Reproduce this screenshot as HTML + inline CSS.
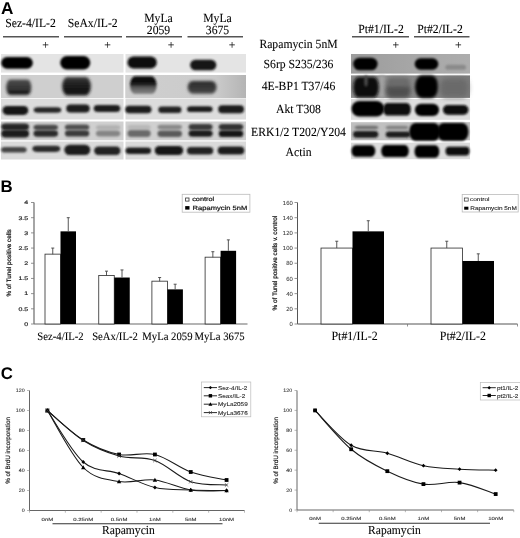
<!DOCTYPE html>
<html><head><meta charset="utf-8"><style>
html,body{margin:0;padding:0;background:#fff;width:520px;height:538px;overflow:hidden}
svg{display:block;filter:blur(0.35px)}
text{text-rendering:geometricPrecision;stroke-linejoin:round}
</style></head><body>
<svg width="520" height="538" viewBox="0 0 520 538">
<defs><linearGradient id="gL1" x1="0" x2="0" y1="0" y2="1"><stop offset="0" stop-color="#5a5a5a"/><stop offset="0.17" stop-color="#333"/><stop offset="0.3" stop-color="#505050"/><stop offset="0.45" stop-color="#2a2a2a"/><stop offset="0.57" stop-color="#444"/><stop offset="0.72" stop-color="#1e1e1e"/><stop offset="1" stop-color="#1a1a1a"/></linearGradient><linearGradient id="gL3" x1="0" x2="0" y1="0" y2="1"><stop offset="0" stop-color="#3a3a3a"/><stop offset="0.4" stop-color="#1e1e1e"/><stop offset="1" stop-color="#111"/></linearGradient><linearGradient id="gL5" x1="0" x2="0" y1="0" y2="1"><stop offset="0" stop-color="#0a0a0a"/><stop offset="0.45" stop-color="#141414"/><stop offset="0.6" stop-color="#555"/><stop offset="1" stop-color="#8a8a8a"/></linearGradient><linearGradient id="gL7" x1="0" x2="0" y1="0" y2="1"><stop offset="0" stop-color="#2a2a2a"/><stop offset="0.5" stop-color="#383838"/><stop offset="1" stop-color="#4a4a4a"/></linearGradient><linearGradient id="gRS1" x1="0" x2="1" y1="0" y2="0"><stop offset="0" stop-color="#9c9c9c"/><stop offset="0.5" stop-color="#a6a6a6"/><stop offset="1" stop-color="#adadad"/></linearGradient><linearGradient id="gS2L" x1="0" x2="1" y1="0" y2="0"><stop offset="0" stop-color="#cfcfcf"/><stop offset="0.75" stop-color="#cbcbcb"/><stop offset="1" stop-color="#b4b4b4"/></linearGradient><linearGradient id="gS2" x1="0" x2="1" y1="0" y2="0"><stop offset="0" stop-color="#8e8e8e"/><stop offset="0.5" stop-color="#8a8a8a"/><stop offset="1" stop-color="#7c7c7c"/></linearGradient><filter id="bl5" x="-50%" y="-200%" width="200%" height="500%"><feGaussianBlur stdDeviation="0.5"/></filter><filter id="bl6" x="-50%" y="-200%" width="200%" height="500%"><feGaussianBlur stdDeviation="0.6"/></filter><filter id="bl7" x="-50%" y="-200%" width="200%" height="500%"><feGaussianBlur stdDeviation="0.7"/></filter><filter id="bl8" x="-50%" y="-200%" width="200%" height="500%"><feGaussianBlur stdDeviation="0.8"/></filter><filter id="bl9" x="-50%" y="-200%" width="200%" height="500%"><feGaussianBlur stdDeviation="0.9"/></filter><filter id="bl10" x="-50%" y="-200%" width="200%" height="500%"><feGaussianBlur stdDeviation="1.0"/></filter><filter id="bl11" x="-50%" y="-200%" width="200%" height="500%"><feGaussianBlur stdDeviation="1.1"/></filter><filter id="bl12" x="-50%" y="-200%" width="200%" height="500%"><feGaussianBlur stdDeviation="1.2"/></filter><filter id="bl13" x="-50%" y="-200%" width="200%" height="500%"><feGaussianBlur stdDeviation="1.3"/></filter><filter id="bl14" x="-50%" y="-200%" width="200%" height="500%"><feGaussianBlur stdDeviation="1.4"/></filter><filter id="bl15" x="-50%" y="-200%" width="200%" height="500%"><feGaussianBlur stdDeviation="1.5"/></filter><filter id="bl16" x="-50%" y="-200%" width="200%" height="500%"><feGaussianBlur stdDeviation="1.6"/></filter><filter id="bl17" x="-50%" y="-200%" width="200%" height="500%"><feGaussianBlur stdDeviation="1.7"/></filter><filter id="bl18" x="-50%" y="-200%" width="200%" height="500%"><feGaussianBlur stdDeviation="1.8"/></filter><filter id="bl19" x="-50%" y="-200%" width="200%" height="500%"><feGaussianBlur stdDeviation="1.9"/></filter><filter id="bl20" x="-50%" y="-200%" width="200%" height="500%"><feGaussianBlur stdDeviation="2.0"/></filter><filter id="bl21" x="-50%" y="-200%" width="200%" height="500%"><feGaussianBlur stdDeviation="2.1"/></filter><filter id="bl22" x="-50%" y="-200%" width="200%" height="500%"><feGaussianBlur stdDeviation="2.2"/></filter><filter id="bl23" x="-50%" y="-200%" width="200%" height="500%"><feGaussianBlur stdDeviation="2.3"/></filter><filter id="bl24" x="-50%" y="-200%" width="200%" height="500%"><feGaussianBlur stdDeviation="2.4"/></filter><filter id="bl25" x="-50%" y="-200%" width="200%" height="500%"><feGaussianBlur stdDeviation="2.5"/></filter><filter id="bl26" x="-50%" y="-200%" width="200%" height="500%"><feGaussianBlur stdDeviation="2.6"/></filter><filter id="bl27" x="-50%" y="-200%" width="200%" height="500%"><feGaussianBlur stdDeviation="2.7"/></filter><filter id="bl28" x="-50%" y="-200%" width="200%" height="500%"><feGaussianBlur stdDeviation="2.8"/></filter><filter id="bl29" x="-50%" y="-200%" width="200%" height="500%"><feGaussianBlur stdDeviation="2.9"/></filter><filter id="bl30" x="-50%" y="-200%" width="200%" height="500%"><feGaussianBlur stdDeviation="3.0"/></filter><filter id="bl31" x="-50%" y="-200%" width="200%" height="500%"><feGaussianBlur stdDeviation="3.1"/></filter><filter id="bl32" x="-50%" y="-200%" width="200%" height="500%"><feGaussianBlur stdDeviation="3.2"/></filter><filter id="bl33" x="-50%" y="-200%" width="200%" height="500%"><feGaussianBlur stdDeviation="3.3"/></filter><filter id="bl34" x="-50%" y="-200%" width="200%" height="500%"><feGaussianBlur stdDeviation="3.4"/></filter><filter id="bl35" x="-50%" y="-200%" width="200%" height="500%"><feGaussianBlur stdDeviation="3.5"/></filter><filter id="bl36" x="-50%" y="-200%" width="200%" height="500%"><feGaussianBlur stdDeviation="3.6"/></filter><filter id="bl37" x="-50%" y="-200%" width="200%" height="500%"><feGaussianBlur stdDeviation="3.7"/></filter><filter id="bl38" x="-50%" y="-200%" width="200%" height="500%"><feGaussianBlur stdDeviation="3.8"/></filter><filter id="bl39" x="-50%" y="-200%" width="200%" height="500%"><feGaussianBlur stdDeviation="3.9"/></filter></defs>
<rect width="520" height="538" fill="#fff"/>
<text transform="translate(1.0,13.5) scale(1,1.0)" font-family="'Liberation Sans', sans-serif" font-size="17.2" text-anchor="start" fill="#000" font-weight="bold"  >A</text>
<text transform="translate(30.5,27) scale(1,1.06)" font-family="'Liberation Serif', serif" font-size="11.7" text-anchor="middle" fill="#000" font-weight="normal" stroke="#000" stroke-width="0.07" >Sez-4/IL-2</text>
<text transform="translate(92.7,27) scale(1,1.06)" font-family="'Liberation Serif', serif" font-size="11.7" text-anchor="middle" fill="#000" font-weight="normal" stroke="#000" stroke-width="0.07" >SeAx/IL-2</text>
<text transform="translate(158.5,21.5) scale(1,1.06)" font-family="'Liberation Serif', serif" font-size="11.7" text-anchor="middle" fill="#000" font-weight="normal" stroke="#000" stroke-width="0.07" >MyLa</text>
<text transform="translate(158.5,33.5) scale(1,1.06)" font-family="'Liberation Serif', serif" font-size="11.7" text-anchor="middle" fill="#000" font-weight="normal" stroke="#000" stroke-width="0.07" >2059</text>
<text transform="translate(217.5,21.5) scale(1,1.06)" font-family="'Liberation Serif', serif" font-size="11.7" text-anchor="middle" fill="#000" font-weight="normal" stroke="#000" stroke-width="0.07" >MyLa</text>
<text transform="translate(217.5,33.5) scale(1,1.06)" font-family="'Liberation Serif', serif" font-size="11.7" text-anchor="middle" fill="#000" font-weight="normal" stroke="#000" stroke-width="0.07" >3675</text>
<text transform="translate(381,32.5) scale(1,1.06)" font-family="'Liberation Serif', serif" font-size="11.7" text-anchor="middle" fill="#000" font-weight="normal" stroke="#000" stroke-width="0.07" >Pt#1/IL-2</text>
<text transform="translate(440,32.5) scale(1,1.06)" font-family="'Liberation Serif', serif" font-size="11.7" text-anchor="middle" fill="#000" font-weight="normal" stroke="#000" stroke-width="0.07" >Pt#2/IL-2</text>
<line x1="3" y1="36.8" x2="59" y2="36.8" stroke="#555" stroke-width="1.5" />
<line x1="64" y1="36.8" x2="122" y2="36.8" stroke="#555" stroke-width="1.5" />
<line x1="126" y1="36.8" x2="182" y2="36.8" stroke="#555" stroke-width="1.5" />
<line x1="187.5" y1="36.8" x2="243" y2="36.8" stroke="#555" stroke-width="1.5" />
<line x1="352" y1="36.8" x2="409" y2="36.8" stroke="#555" stroke-width="1.5" />
<line x1="414" y1="36.8" x2="469.5" y2="36.8" stroke="#555" stroke-width="1.5" />
<text transform="translate(45.6,48.6) scale(1,1.06)" font-family="'Liberation Serif', serif" font-size="11.7" text-anchor="middle" fill="#000" font-weight="normal" stroke="#000" stroke-width="0.07" >+</text>
<text transform="translate(107.5,48.6) scale(1,1.06)" font-family="'Liberation Serif', serif" font-size="11.7" text-anchor="middle" fill="#000" font-weight="normal" stroke="#000" stroke-width="0.07" >+</text>
<text transform="translate(171,48.6) scale(1,1.06)" font-family="'Liberation Serif', serif" font-size="11.7" text-anchor="middle" fill="#000" font-weight="normal" stroke="#000" stroke-width="0.07" >+</text>
<text transform="translate(232,48.6) scale(1,1.06)" font-family="'Liberation Serif', serif" font-size="11.7" text-anchor="middle" fill="#000" font-weight="normal" stroke="#000" stroke-width="0.07" >+</text>
<text transform="translate(395.8,48.6) scale(1,1.06)" font-family="'Liberation Serif', serif" font-size="11.7" text-anchor="middle" fill="#000" font-weight="normal" stroke="#000" stroke-width="0.07" >+</text>
<text transform="translate(458.3,48.6) scale(1,1.06)" font-family="'Liberation Serif', serif" font-size="11.7" text-anchor="middle" fill="#000" font-weight="normal" stroke="#000" stroke-width="0.07" >+</text>
<text transform="translate(298.5,47.5) scale(1,1.06)" font-family="'Liberation Serif', serif" font-size="11.7" text-anchor="middle" fill="#000" font-weight="normal" stroke="#000" stroke-width="0.07" >Rapamycin 5nM</text>
<text transform="translate(298.5,67.5) scale(1,1.06)" font-family="'Liberation Serif', serif" font-size="11.7" text-anchor="middle" fill="#000" font-weight="normal" stroke="#000" stroke-width="0.07" >S6rp S235/236</text>
<text transform="translate(298.5,90) scale(1,1.06)" font-family="'Liberation Serif', serif" font-size="11.7" text-anchor="middle" fill="#000" font-weight="normal" stroke="#000" stroke-width="0.07" >4E-BP1 T37/46</text>
<text transform="translate(298.5,112.5) scale(1,1.06)" font-family="'Liberation Serif', serif" font-size="11.7" text-anchor="middle" fill="#000" font-weight="normal" stroke="#000" stroke-width="0.07" >Akt T308</text>
<text transform="translate(298.5,136) scale(1,1.06)" font-family="'Liberation Serif', serif" font-size="11.7" text-anchor="middle" fill="#000" font-weight="normal" stroke="#000" stroke-width="0.07" >ERK1/2 T202/Y204</text>
<text transform="translate(298.5,155.5) scale(1,1.06)" font-family="'Liberation Serif', serif" font-size="11.7" text-anchor="middle" fill="#000" font-weight="normal" stroke="#000" stroke-width="0.07" >Actin</text>
<rect x="1" y="54" width="122.5" height="18.599999999999994" fill="#e4e4e4" />
<rect x="125.5" y="54" width="120.5" height="18.599999999999994" fill="#e4e4e4" />
<rect x="1" y="75" width="122.5" height="23.200000000000003" fill="#cfcfcf" />
<rect x="125.5" y="75" width="120.5" height="23.200000000000003" fill="#cfcfcf" />
<rect x="1" y="99" width="122.5" height="20.5" fill="#dcdcdc" />
<rect x="125.5" y="99" width="120.5" height="20.5" fill="#dcdcdc" />
<rect x="1" y="121.5" width="122.5" height="18.80000000000001" fill="#d0d0d0" />
<rect x="125.5" y="121.5" width="120.5" height="18.80000000000001" fill="#d0d0d0" />
<rect x="1" y="141.5" width="122.5" height="18.0" fill="#dadada" />
<rect x="125.5" y="141.5" width="120.5" height="18.0" fill="#dadada" />
<rect x="125.5" y="75" width="120.5" height="23.2" fill="url(#gS2L)" />
<rect x="351" y="54" width="119" height="19.599999999999994" fill="url(#gRS1)" />
<rect x="351" y="75.6" width="119" height="22.10000000000001" fill="#8a8a8a" />
<rect x="351" y="99" width="119" height="20.799999999999997" fill="#dedede" />
<rect x="351" y="122.2" width="119" height="18.10000000000001" fill="#c0c0c0" />
<rect x="351" y="142.7" width="119" height="16.5" fill="#dcdcdc" />
<rect x="1.20" y="57.10" width="31.60" height="11.60" rx="5.80" ry="5.80" fill="#000" filter="url(#bl9)"/>
<rect x="60.20" y="56.10" width="30.10" height="13.50" rx="6.75" ry="6.75" fill="#000" filter="url(#bl9)"/>
<rect x="127.50" y="56.60" width="29.30" height="12.00" rx="6.00" ry="6.00" fill="#0c0c0c" filter="url(#bl9)"/>
<rect x="190.10" y="59.80" width="26.20" height="10.50" rx="5.25" ry="5.25" fill="#141414" filter="url(#bl9)"/>
<rect x="6.20" y="79.50" width="25.10" height="15.50" rx="4.00" ry="7.75" fill="url(#gL1)" filter="url(#bl14)"/>
<rect x="62.20" y="77.10" width="28.60" height="18.40" rx="5.00" ry="9.20" fill="url(#gL3)" filter="url(#bl14)"/>
<rect x="130.00" y="76.30" width="26.60" height="17.70" rx="5.00" ry="8.85" fill="url(#gL5)" filter="url(#bl13)"/>
<rect x="187.70" y="81.00" width="28.80" height="12.70" rx="5.00" ry="6.35" fill="url(#gL7)" filter="url(#bl16)"/>
<rect x="2.50" y="105.90" width="25.80" height="9.00" rx="4.50" ry="4.50" fill="#171717" filter="url(#bl10)"/>
<rect x="33.70" y="107.20" width="27.60" height="5.50" rx="4.14" ry="2.75" fill="#262626" filter="url(#bl10)"/>
<rect x="66.20" y="104.40" width="23.50" height="8.10" rx="4.05" ry="4.05" fill="#1a1a1a" filter="url(#bl10)"/>
<rect x="93.70" y="105.10" width="26.60" height="6.80" rx="3.99" ry="3.40" fill="#1e1e1e" filter="url(#bl10)"/>
<rect x="125.20" y="105.70" width="26.30" height="7.60" rx="3.94" ry="3.80" fill="#1a1a1a" filter="url(#bl10)"/>
<rect x="158.30" y="106.50" width="23.20" height="6.40" rx="3.48" ry="3.20" fill="#202020" filter="url(#bl10)"/>
<rect x="187.00" y="106.30" width="25.60" height="5.70" rx="3.84" ry="2.85" fill="#1e1e1e" filter="url(#bl10)"/>
<rect x="218.20" y="105.30" width="25.80" height="8.00" rx="4.00" ry="4.00" fill="#1a1a1a" filter="url(#bl10)"/>
<rect x="1.20" y="123.40" width="27.90" height="6.90" rx="4.19" ry="3.45" fill="#262626" filter="url(#bl9)"/>
<rect x="1.20" y="129.70" width="27.90" height="7.80" rx="4.19" ry="3.90" fill="#1a1a1a" filter="url(#bl10)"/>
<rect x="33.50" y="124.70" width="24.50" height="5.30" rx="3.67" ry="2.65" fill="#4a4a4a" filter="url(#bl9)"/>
<rect x="33.50" y="130.30" width="24.50" height="6.40" rx="3.67" ry="3.20" fill="#2a2a2a" filter="url(#bl10)"/>
<rect x="64.90" y="124.50" width="24.40" height="5.30" rx="3.66" ry="2.65" fill="#505050" filter="url(#bl9)"/>
<rect x="64.90" y="130.30" width="24.40" height="6.20" rx="3.66" ry="3.10" fill="#3a3a3a" filter="url(#bl10)"/>
<rect x="95.90" y="125.30" width="24.40" height="4.20" rx="3.66" ry="2.10" fill="#b0b0b0" filter="url(#bl9)"/>
<rect x="95.90" y="130.50" width="24.40" height="6.00" rx="3.66" ry="3.00" fill="#858585" filter="url(#bl10)"/>
<rect x="127.50" y="125.10" width="23.20" height="4.40" rx="3.48" ry="2.20" fill="#b8b8b8" filter="url(#bl9)"/>
<rect x="127.50" y="130.10" width="23.20" height="6.80" rx="3.48" ry="3.40" fill="#6a6a6a" filter="url(#bl10)"/>
<rect x="157.50" y="124.70" width="24.50" height="4.80" rx="3.67" ry="2.40" fill="#888" filter="url(#bl9)"/>
<rect x="157.50" y="130.50" width="24.50" height="6.40" rx="3.67" ry="3.20" fill="#5a5a5a" filter="url(#bl10)"/>
<rect x="188.60" y="124.10" width="24.00" height="5.80" rx="3.60" ry="2.90" fill="#3a3a3a" filter="url(#bl9)"/>
<rect x="188.60" y="130.30" width="24.00" height="6.50" rx="3.60" ry="3.25" fill="#1e1e1e" filter="url(#bl10)"/>
<rect x="218.70" y="124.10" width="24.60" height="5.80" rx="3.69" ry="2.90" fill="#303030" filter="url(#bl9)"/>
<rect x="218.70" y="130.30" width="24.60" height="6.80" rx="3.69" ry="3.40" fill="#141414" filter="url(#bl10)"/>
<rect x="1.10" y="147.00" width="25.60" height="5.60" rx="3.84" ry="2.80" fill="#444" filter="url(#bl10)"/>
<rect x="32.40" y="145.80" width="27.90" height="6.10" rx="4.18" ry="3.05" fill="#2a2a2a" filter="url(#bl10)"/>
<rect x="64.30" y="144.70" width="26.00" height="10.30" rx="5.15" ry="5.15" fill="#1a1a1a" filter="url(#bl10)"/>
<rect x="94.10" y="146.60" width="26.40" height="8.40" rx="4.20" ry="4.20" fill="#222" filter="url(#bl10)"/>
<rect x="125.50" y="147.50" width="25.60" height="6.40" rx="3.84" ry="3.20" fill="#1e1e1e" filter="url(#bl10)"/>
<rect x="154.70" y="145.90" width="28.50" height="9.20" rx="4.60" ry="4.60" fill="#141414" filter="url(#bl10)"/>
<rect x="186.90" y="147.10" width="26.40" height="7.40" rx="3.96" ry="3.70" fill="#222" filter="url(#bl10)"/>
<rect x="217.70" y="146.60" width="26.60" height="7.90" rx="3.99" ry="3.95" fill="#1e1e1e" filter="url(#bl10)"/>
<rect x="353.20" y="57.70" width="24.40" height="12.60" rx="6.30" ry="6.30" fill="#000" filter="url(#bl9)"/>
<rect x="414.70" y="58.30" width="23.60" height="11.40" rx="5.70" ry="5.70" fill="#000" filter="url(#bl9)"/>
<rect x="445.20" y="64.70" width="20.90" height="5.10" rx="3.14" ry="2.55" fill="#8a8a8a" filter="url(#bl12)"/>
<rect x="351" y="75.6" width="119" height="22.1" fill="url(#gS2)" />
<rect x="379" y="75.6" width="6" height="22.1" fill="#a2a2a2" filter="url(#bl15)"/>
<rect x="353.20" y="77.00" width="25.60" height="20.50" rx="5.00" ry="10.25" fill="#0e0e0e" filter="url(#bl15)"/>
<rect x="364.20" y="75.50" width="3.60" height="11.00" rx="1.50" ry="5.50" fill="#4a4a4a" filter="url(#bl13)"/>
<rect x="385.70" y="83.50" width="25.10" height="14.50" rx="5.00" ry="7.25" fill="#505050" filter="url(#bl20)"/>
<rect x="386.70" y="77.50" width="23.60" height="9.00" rx="5.00" ry="4.50" fill="#6a6a6a" filter="url(#bl22)"/>
<rect x="415.00" y="75.50" width="23.30" height="22.50" rx="7.00" ry="11.25" fill="#050505" filter="url(#bl15)"/>
<rect x="439.70" y="78.50" width="28.60" height="19.00" rx="5.00" ry="9.50" fill="#6a6a6a" filter="url(#bl25)"/>
<rect x="351.50" y="100.90" width="32.80" height="15.70" rx="7.85" ry="7.85" fill="#050505" filter="url(#bl12)"/>
<rect x="383.20" y="102.90" width="27.60" height="12.60" rx="4.00" ry="6.30" fill="#0c0c0c" filter="url(#bl11)"/>
<rect x="414.90" y="103.80" width="24.20" height="12.30" rx="6.15" ry="6.15" fill="#050505" filter="url(#bl11)"/>
<rect x="442.90" y="105.00" width="25.60" height="9.70" rx="4.85" ry="4.85" fill="#080808" filter="url(#bl11)"/>
<rect x="354.70" y="125.80" width="23.60" height="3.40" rx="3.54" ry="1.70" fill="#707070" filter="url(#bl8)"/>
<rect x="353.00" y="130.90" width="25.30" height="6.80" rx="3.80" ry="3.40" fill="#1a1a1a" filter="url(#bl10)"/>
<rect x="385.70" y="125.70" width="22.60" height="3.60" rx="3.39" ry="1.80" fill="#808080" filter="url(#bl8)"/>
<rect x="385.70" y="131.50" width="24.60" height="6.00" rx="3.69" ry="3.00" fill="#1e1e1e" filter="url(#bl10)"/>
<rect x="409.20" y="123.00" width="31.10" height="17.70" rx="6.00" ry="8.85" fill="#060606" filter="url(#bl10)"/>
<rect x="437.20" y="123.00" width="31.30" height="17.70" rx="6.00" ry="8.85" fill="#060606" filter="url(#bl10)"/>
<rect x="351.50" y="145.30" width="23.80" height="11.50" rx="4.00" ry="5.75" fill="#050505" filter="url(#bl10)"/>
<rect x="381.20" y="145.10" width="27.60" height="11.80" rx="4.00" ry="5.90" fill="#060606" filter="url(#bl10)"/>
<rect x="414.50" y="145.30" width="24.80" height="12.40" rx="4.00" ry="6.20" fill="#060606" filter="url(#bl10)"/>
<rect x="445.50" y="146.70" width="24.00" height="8.80" rx="3.50" ry="4.40" fill="#0a0a0a" filter="url(#bl10)"/>
<text transform="translate(0.6,191.6) scale(1,1.0)" font-family="'Liberation Sans', sans-serif" font-size="16.8" text-anchor="start" fill="#000" font-weight="bold"  >B</text>
<line x1="34" y1="202.5" x2="34" y2="324" stroke="#6a6a6a" stroke-width="1.2" />
<line x1="34" y1="324" x2="247.5" y2="324" stroke="#6a6a6a" stroke-width="1.2" />
<line x1="31" y1="324.0" x2="34" y2="324.0" stroke="#777" stroke-width="0.8" />
<text transform="translate(28.2,325.85) scale(0.1350,0.1)" font-family="'Liberation Sans', sans-serif" font-size="52.00" text-anchor="end" fill="#222" stroke="#222" stroke-width="1.60">0</text>
<line x1="31" y1="308.8125" x2="34" y2="308.8125" stroke="#777" stroke-width="0.8" />
<text transform="translate(28.2,310.6625) scale(0.1350,0.1)" font-family="'Liberation Sans', sans-serif" font-size="52.00" text-anchor="end" fill="#222" stroke="#222" stroke-width="1.60">0.5</text>
<line x1="31" y1="293.625" x2="34" y2="293.625" stroke="#777" stroke-width="0.8" />
<text transform="translate(28.2,295.475) scale(0.1350,0.1)" font-family="'Liberation Sans', sans-serif" font-size="52.00" text-anchor="end" fill="#222" stroke="#222" stroke-width="1.60">1</text>
<line x1="31" y1="278.4375" x2="34" y2="278.4375" stroke="#777" stroke-width="0.8" />
<text transform="translate(28.2,280.2875) scale(0.1350,0.1)" font-family="'Liberation Sans', sans-serif" font-size="52.00" text-anchor="end" fill="#222" stroke="#222" stroke-width="1.60">1.5</text>
<line x1="31" y1="263.25" x2="34" y2="263.25" stroke="#777" stroke-width="0.8" />
<text transform="translate(28.2,265.1) scale(0.1350,0.1)" font-family="'Liberation Sans', sans-serif" font-size="52.00" text-anchor="end" fill="#222" stroke="#222" stroke-width="1.60">2</text>
<line x1="31" y1="248.0625" x2="34" y2="248.0625" stroke="#777" stroke-width="0.8" />
<text transform="translate(28.2,249.9125) scale(0.1350,0.1)" font-family="'Liberation Sans', sans-serif" font-size="52.00" text-anchor="end" fill="#222" stroke="#222" stroke-width="1.60">2.5</text>
<line x1="31" y1="232.875" x2="34" y2="232.875" stroke="#777" stroke-width="0.8" />
<text transform="translate(28.2,234.725) scale(0.1350,0.1)" font-family="'Liberation Sans', sans-serif" font-size="52.00" text-anchor="end" fill="#222" stroke="#222" stroke-width="1.60">3</text>
<line x1="31" y1="217.6875" x2="34" y2="217.6875" stroke="#777" stroke-width="0.8" />
<text transform="translate(28.2,219.5375) scale(0.1350,0.1)" font-family="'Liberation Sans', sans-serif" font-size="52.00" text-anchor="end" fill="#222" stroke="#222" stroke-width="1.60">3.5</text>
<line x1="31" y1="202.5" x2="34" y2="202.5" stroke="#777" stroke-width="0.8" />
<text transform="translate(28.2,204.35) scale(0.1350,0.1)" font-family="'Liberation Sans', sans-serif" font-size="52.00" text-anchor="end" fill="#222" stroke="#222" stroke-width="1.60">4</text>
<text transform="translate(10.6,262.9) rotate(-90)" font-family="'Liberation Sans', sans-serif" font-size="6.3" text-anchor="middle" fill="#111" stroke="#111" stroke-width="0.22">% of Tunel positive cells</text>
<line x1="52.75" y1="254.1375" x2="52.75" y2="324" stroke="#222" stroke-width="1" />
<rect x="45.0" y="254.1375" width="15.5" height="69.86250000000001" fill="#fff" stroke="#2a2a2a" stroke-width="0.8"/>
<rect x="60.5" y="231.35625" width="15.5" height="92.64375000000001" fill="#000" />
<line x1="52.75" y1="248.0625" x2="52.75" y2="254.1375" stroke="#444" stroke-width="0.9" />
<line x1="51.25" y1="248.0625" x2="54.25" y2="248.0625" stroke="#444" stroke-width="0.9" />
<line x1="68.25" y1="217.6875" x2="68.25" y2="231.35625" stroke="#444" stroke-width="0.9" />
<line x1="66.75" y1="217.6875" x2="69.75" y2="217.6875" stroke="#444" stroke-width="0.9" />
<line x1="106.5" y1="275.4" x2="106.5" y2="324" stroke="#222" stroke-width="1" />
<rect x="98.75" y="275.4" width="15.5" height="48.60000000000002" fill="#fff" stroke="#2a2a2a" stroke-width="0.8"/>
<rect x="114.25" y="277.52625" width="15.5" height="46.473749999999995" fill="#000" />
<line x1="106.5" y1="271.1475" x2="106.5" y2="275.4" stroke="#444" stroke-width="0.9" />
<line x1="105.0" y1="271.1475" x2="108.0" y2="271.1475" stroke="#444" stroke-width="0.9" />
<line x1="122.0" y1="269.9325" x2="122.0" y2="277.52625" stroke="#444" stroke-width="0.9" />
<line x1="120.5" y1="269.9325" x2="123.5" y2="269.9325" stroke="#444" stroke-width="0.9" />
<line x1="159.65" y1="281.17125" x2="159.65" y2="324" stroke="#222" stroke-width="1" />
<rect x="151.9" y="281.17125" width="15.5" height="42.828750000000014" fill="#fff" stroke="#2a2a2a" stroke-width="0.8"/>
<rect x="167.4" y="289.3725" width="15.5" height="34.6275" fill="#000" />
<line x1="159.65" y1="277.52625" x2="159.65" y2="281.17125" stroke="#444" stroke-width="0.9" />
<line x1="158.15" y1="277.52625" x2="161.15" y2="277.52625" stroke="#444" stroke-width="0.9" />
<line x1="175.15" y1="284.20875" x2="175.15" y2="289.3725" stroke="#444" stroke-width="0.9" />
<line x1="173.65" y1="284.20875" x2="176.65" y2="284.20875" stroke="#444" stroke-width="0.9" />
<line x1="212.85" y1="257.175" x2="212.85" y2="324" stroke="#222" stroke-width="1" />
<rect x="205.1" y="257.175" width="15.5" height="66.82499999999999" fill="#fff" stroke="#2a2a2a" stroke-width="0.8"/>
<rect x="220.6" y="250.79625" width="15.5" height="73.20375000000001" fill="#000" />
<line x1="212.85" y1="251.7075" x2="212.85" y2="257.175" stroke="#444" stroke-width="0.9" />
<line x1="211.35" y1="251.7075" x2="214.35" y2="251.7075" stroke="#444" stroke-width="0.9" />
<line x1="228.35" y1="239.86124999999998" x2="228.35" y2="250.79625" stroke="#444" stroke-width="0.9" />
<line x1="226.85" y1="239.86124999999998" x2="229.85" y2="239.86124999999998" stroke="#444" stroke-width="0.9" />
<rect x="182.2" y="194.3" width="67.7" height="17.9" fill="#fff" stroke="#bbb" stroke-width="0.8"/>
<rect x="185.6" y="198.0" width="3.4" height="3.1" fill="#fff" stroke="#333" stroke-width="0.8"/>
<text transform="translate(192.2,201.4) scale(0.1220,0.1)" font-family="'Liberation Sans', sans-serif" font-size="60.00" text-anchor="start" fill="#1a1a1a" stroke="#1a1a1a" stroke-width="2.20">control</text>
<rect x="185.2" y="206.1" width="4.3" height="3.5" fill="#000" />
<text transform="translate(192.6,209.7) scale(0.1220,0.1)" font-family="'Liberation Sans', sans-serif" font-size="62.00" text-anchor="start" fill="#1a1a1a" stroke="#1a1a1a" stroke-width="2.20">Rapamycin 5nM</text>
<text transform="translate(60.5,339.7) scale(1,1.06)" font-family="'Liberation Serif', serif" font-size="10.7" text-anchor="middle" fill="#000" font-weight="normal" stroke="#000" stroke-width="0.07" >Sez-4/IL-2</text>
<text transform="translate(115,339.7) scale(1,1.06)" font-family="'Liberation Serif', serif" font-size="10.7" text-anchor="middle" fill="#000" font-weight="normal" stroke="#000" stroke-width="0.07" >SeAx/IL-2</text>
<text transform="translate(167.4,339.7) scale(1,1.06)" font-family="'Liberation Serif', serif" font-size="10.7" text-anchor="middle" fill="#000" font-weight="normal" stroke="#000" stroke-width="0.07" >MyLa 2059</text>
<text transform="translate(219.5,339.7) scale(1,1.06)" font-family="'Liberation Serif', serif" font-size="10.7" text-anchor="middle" fill="#000" font-weight="normal" stroke="#000" stroke-width="0.07" >MyLa 3675</text>
<line x1="297.5" y1="202.5" x2="297.5" y2="324" stroke="#555" stroke-width="1" />
<line x1="297.5" y1="324" x2="517.5" y2="324" stroke="#555" stroke-width="1" />
<line x1="294.5" y1="324.0" x2="297.5" y2="324.0" stroke="#777" stroke-width="0.8" />
<text transform="translate(292.7,326.1) scale(0.1000,0.1)" font-family="'Liberation Sans', sans-serif" font-size="59.00" text-anchor="end" fill="#333" stroke="#333" stroke-width="0.60">0</text>
<line x1="294.5" y1="308.8125" x2="297.5" y2="308.8125" stroke="#777" stroke-width="0.8" />
<text transform="translate(292.7,310.9125) scale(0.1000,0.1)" font-family="'Liberation Sans', sans-serif" font-size="59.00" text-anchor="end" fill="#333" stroke="#333" stroke-width="0.60">20</text>
<line x1="294.5" y1="293.625" x2="297.5" y2="293.625" stroke="#777" stroke-width="0.8" />
<text transform="translate(292.7,295.725) scale(0.1000,0.1)" font-family="'Liberation Sans', sans-serif" font-size="59.00" text-anchor="end" fill="#333" stroke="#333" stroke-width="0.60">40</text>
<line x1="294.5" y1="278.4375" x2="297.5" y2="278.4375" stroke="#777" stroke-width="0.8" />
<text transform="translate(292.7,280.5375) scale(0.1000,0.1)" font-family="'Liberation Sans', sans-serif" font-size="59.00" text-anchor="end" fill="#333" stroke="#333" stroke-width="0.60">60</text>
<line x1="294.5" y1="263.25" x2="297.5" y2="263.25" stroke="#777" stroke-width="0.8" />
<text transform="translate(292.7,265.35) scale(0.1000,0.1)" font-family="'Liberation Sans', sans-serif" font-size="59.00" text-anchor="end" fill="#333" stroke="#333" stroke-width="0.60">80</text>
<line x1="294.5" y1="248.0625" x2="297.5" y2="248.0625" stroke="#777" stroke-width="0.8" />
<text transform="translate(292.7,250.1625) scale(0.1000,0.1)" font-family="'Liberation Sans', sans-serif" font-size="59.00" text-anchor="end" fill="#333" stroke="#333" stroke-width="0.60">100</text>
<line x1="294.5" y1="232.875" x2="297.5" y2="232.875" stroke="#777" stroke-width="0.8" />
<text transform="translate(292.7,234.975) scale(0.1000,0.1)" font-family="'Liberation Sans', sans-serif" font-size="59.00" text-anchor="end" fill="#333" stroke="#333" stroke-width="0.60">120</text>
<line x1="294.5" y1="217.6875" x2="297.5" y2="217.6875" stroke="#777" stroke-width="0.8" />
<text transform="translate(292.7,219.7875) scale(0.1000,0.1)" font-family="'Liberation Sans', sans-serif" font-size="59.00" text-anchor="end" fill="#333" stroke="#333" stroke-width="0.60">140</text>
<line x1="294.5" y1="202.5" x2="297.5" y2="202.5" stroke="#777" stroke-width="0.8" />
<text transform="translate(292.7,204.6) scale(0.1000,0.1)" font-family="'Liberation Sans', sans-serif" font-size="59.00" text-anchor="end" fill="#333" stroke="#333" stroke-width="0.60">160</text>
<line x1="407.5" y1="324" x2="407.5" y2="326.5" stroke="#777" stroke-width="0.8" />
<line x1="517.5" y1="324" x2="517.5" y2="326.5" stroke="#777" stroke-width="0.8" />
<text transform="translate(277.4,263.1) rotate(-90)" font-family="'Liberation Sans', sans-serif" font-size="6.35" text-anchor="middle" fill="#111" stroke="#111" stroke-width="0.22">% of Tunel positive cells v. control</text>
<rect x="321.0" y="248.0625" width="31.5" height="75.9375" fill="#fff" stroke="#2a2a2a" stroke-width="0.8"/>
<rect x="352.5" y="231.35625" width="31.5" height="92.64375000000001" fill="#000" />
<line x1="336.75" y1="241.22812499999998" x2="336.75" y2="248.0625" stroke="#444" stroke-width="0.9" />
<line x1="335.25" y1="241.22812499999998" x2="338.25" y2="241.22812499999998" stroke="#444" stroke-width="0.9" />
<line x1="368.25" y1="220.725" x2="368.25" y2="231.35625" stroke="#444" stroke-width="0.9" />
<line x1="366.75" y1="220.725" x2="369.75" y2="220.725" stroke="#444" stroke-width="0.9" />
<rect x="431.0" y="248.0625" width="31.5" height="75.9375" fill="#fff" stroke="#2a2a2a" stroke-width="0.8"/>
<rect x="462.5" y="260.971875" width="31.5" height="63.02812499999999" fill="#000" />
<line x1="446.75" y1="241.22812499999998" x2="446.75" y2="248.0625" stroke="#444" stroke-width="0.9" />
<line x1="445.25" y1="241.22812499999998" x2="448.25" y2="241.22812499999998" stroke="#444" stroke-width="0.9" />
<line x1="478.25" y1="253.83375" x2="478.25" y2="260.971875" stroke="#444" stroke-width="0.9" />
<line x1="476.75" y1="253.83375" x2="479.75" y2="253.83375" stroke="#444" stroke-width="0.9" />
<rect x="462.2" y="194.5" width="56" height="17.5" fill="#fff" stroke="#bbb" stroke-width="0.8"/>
<rect x="464.3" y="198" width="3.9" height="3.1" fill="#fff" stroke="#333" stroke-width="0.7"/>
<text transform="translate(469.9,201.1) scale(0.1260,0.1)" font-family="'Liberation Sans', sans-serif" font-size="52.00" text-anchor="start" fill="#222" stroke="#222" stroke-width="1.00">control</text>
<rect x="464.2" y="206.7" width="4.2" height="3.0" fill="#000" />
<text transform="translate(470.3,209.7) scale(0.1170,0.1)" font-family="'Liberation Sans', sans-serif" font-size="55.00" text-anchor="start" fill="#222" stroke="#222" stroke-width="1.00">Rapamycin 5nM</text>
<text transform="translate(354.6,339.6) scale(1,1.06)" font-family="'Liberation Serif', serif" font-size="11.9" text-anchor="middle" fill="#000" font-weight="normal" stroke="#000" stroke-width="0.07" >Pt#1/IL-2</text>
<text transform="translate(462.9,339.6) scale(1,1.06)" font-family="'Liberation Serif', serif" font-size="11.9" text-anchor="middle" fill="#000" font-weight="normal" stroke="#000" stroke-width="0.07" >Pt#2/IL-2</text>
<text transform="translate(0.8,378.6) scale(1,1.0)" font-family="'Liberation Sans', sans-serif" font-size="16.8" text-anchor="start" fill="#000" font-weight="bold"  >C</text>
<line x1="29.5" y1="390.5" x2="29.5" y2="510.5" stroke="#666" stroke-width="1" />
<line x1="29.5" y1="510.5" x2="244.5" y2="510.5" stroke="#666" stroke-width="1" />
<line x1="27.0" y1="510.5" x2="29.5" y2="510.5" stroke="#888" stroke-width="0.6" />
<text transform="translate(24.7,512.3) scale(0.1040,0.1)" font-family="'Liberation Sans', sans-serif" font-size="51.00" text-anchor="end" fill="#2a2a2a" stroke="#2a2a2a" stroke-width="0.80">0</text>
<line x1="27.0" y1="490.5" x2="29.5" y2="490.5" stroke="#888" stroke-width="0.6" />
<text transform="translate(24.7,492.3) scale(0.1040,0.1)" font-family="'Liberation Sans', sans-serif" font-size="51.00" text-anchor="end" fill="#2a2a2a" stroke="#2a2a2a" stroke-width="0.80">20</text>
<line x1="27.0" y1="470.5" x2="29.5" y2="470.5" stroke="#888" stroke-width="0.6" />
<text transform="translate(24.7,472.3) scale(0.1040,0.1)" font-family="'Liberation Sans', sans-serif" font-size="51.00" text-anchor="end" fill="#2a2a2a" stroke="#2a2a2a" stroke-width="0.80">40</text>
<line x1="27.0" y1="450.5" x2="29.5" y2="450.5" stroke="#888" stroke-width="0.6" />
<text transform="translate(24.7,452.3) scale(0.1040,0.1)" font-family="'Liberation Sans', sans-serif" font-size="51.00" text-anchor="end" fill="#2a2a2a" stroke="#2a2a2a" stroke-width="0.80">60</text>
<line x1="27.0" y1="430.5" x2="29.5" y2="430.5" stroke="#888" stroke-width="0.6" />
<text transform="translate(24.7,432.3) scale(0.1040,0.1)" font-family="'Liberation Sans', sans-serif" font-size="51.00" text-anchor="end" fill="#2a2a2a" stroke="#2a2a2a" stroke-width="0.80">80</text>
<line x1="27.0" y1="410.5" x2="29.5" y2="410.5" stroke="#888" stroke-width="0.6" />
<text transform="translate(24.7,412.3) scale(0.1040,0.1)" font-family="'Liberation Sans', sans-serif" font-size="51.00" text-anchor="end" fill="#2a2a2a" stroke="#2a2a2a" stroke-width="0.80">100</text>
<line x1="27.0" y1="390.5" x2="29.5" y2="390.5" stroke="#888" stroke-width="0.6" />
<text transform="translate(24.7,392.3) scale(0.1040,0.1)" font-family="'Liberation Sans', sans-serif" font-size="51.00" text-anchor="end" fill="#2a2a2a" stroke="#2a2a2a" stroke-width="0.80">120</text>
<line x1="29.5" y1="510.5" x2="29.5" y2="512.7" stroke="#888" stroke-width="0.6" />
<line x1="65.33333333333334" y1="510.5" x2="65.33333333333334" y2="512.7" stroke="#888" stroke-width="0.6" />
<line x1="101.16666666666667" y1="510.5" x2="101.16666666666667" y2="512.7" stroke="#888" stroke-width="0.6" />
<line x1="137.0" y1="510.5" x2="137.0" y2="512.7" stroke="#888" stroke-width="0.6" />
<line x1="172.83333333333334" y1="510.5" x2="172.83333333333334" y2="512.7" stroke="#888" stroke-width="0.6" />
<line x1="208.66666666666669" y1="510.5" x2="208.66666666666669" y2="512.7" stroke="#888" stroke-width="0.6" />
<line x1="244.5" y1="510.5" x2="244.5" y2="512.7" stroke="#888" stroke-width="0.6" />
<text transform="translate(47.41666666666667,521.0) scale(0.1330,0.1)" font-family="'Liberation Sans', sans-serif" font-size="45.00" text-anchor="middle" fill="#333" stroke="#333" stroke-width="1.00">0nM</text>
<text transform="translate(83.25,521.0) scale(0.1330,0.1)" font-family="'Liberation Sans', sans-serif" font-size="45.00" text-anchor="middle" fill="#333" stroke="#333" stroke-width="1.00">0.25nM</text>
<text transform="translate(119.08333333333334,521.0) scale(0.1330,0.1)" font-family="'Liberation Sans', sans-serif" font-size="45.00" text-anchor="middle" fill="#333" stroke="#333" stroke-width="1.00">0.5nM</text>
<text transform="translate(154.91666666666669,521.0) scale(0.1330,0.1)" font-family="'Liberation Sans', sans-serif" font-size="45.00" text-anchor="middle" fill="#333" stroke="#333" stroke-width="1.00">1nM</text>
<text transform="translate(190.75,521.0) scale(0.1330,0.1)" font-family="'Liberation Sans', sans-serif" font-size="45.00" text-anchor="middle" fill="#333" stroke="#333" stroke-width="1.00">5nM</text>
<text transform="translate(226.58333333333334,521.0) scale(0.1330,0.1)" font-family="'Liberation Sans', sans-serif" font-size="45.00" text-anchor="middle" fill="#333" stroke="#333" stroke-width="1.00">10nM</text>
<text transform="translate(9.8,450.4) rotate(-90)" font-family="'Liberation Sans', sans-serif" font-size="6.3" text-anchor="middle" fill="#111" stroke="#111" stroke-width="0.18">% of BrdU incorporation</text>
<path d="M47.42,410.50 C53.39,419.08 71.31,451.50 83.25,462.00 C95.19,472.50 107.14,469.25 119.08,473.50 C131.03,477.75 142.97,484.75 154.92,487.50 C166.86,490.25 178.81,489.50 190.75,490.00 C202.69,490.50 220.61,490.42 226.58,490.50" fill="none" stroke="#1a1a1a" stroke-width="1.05"/>
<path d="M47.41666666666667,408.6 L49.31666666666667,410.5 L47.41666666666667,412.4 L45.51666666666667,410.5 Z" fill="#000"/>
<path d="M83.25,460.1 L85.15,462.0 L83.25,463.9 L81.35,462.0 Z" fill="#000"/>
<path d="M119.08333333333334,471.6 L120.98333333333335,473.5 L119.08333333333334,475.4 L117.18333333333334,473.5 Z" fill="#000"/>
<path d="M154.91666666666669,485.6 L156.8166666666667,487.5 L154.91666666666669,489.4 L153.01666666666668,487.5 Z" fill="#000"/>
<path d="M190.75,488.1 L192.65,490.0 L190.75,491.9 L188.85,490.0 Z" fill="#000"/>
<path d="M226.58333333333334,488.6 L228.48333333333335,490.5 L226.58333333333334,492.4 L224.68333333333334,490.5 Z" fill="#000"/>
<path d="M47.42,410.50 C53.39,415.42 71.31,432.67 83.25,440.00 C95.19,447.33 107.14,452.08 119.08,454.50 C131.03,456.92 142.97,451.58 154.92,454.50 C166.86,457.42 178.81,467.75 190.75,472.00 C202.69,476.25 220.61,478.67 226.58,480.00" fill="none" stroke="#1a1a1a" stroke-width="1.05"/>
<rect x="45.51666666666667" y="408.6" width="3.8" height="3.8" fill="#000"/>
<rect x="81.35" y="438.1" width="3.8" height="3.8" fill="#000"/>
<rect x="117.18333333333334" y="452.6" width="3.8" height="3.8" fill="#000"/>
<rect x="153.01666666666668" y="452.6" width="3.8" height="3.8" fill="#000"/>
<rect x="188.85" y="470.1" width="3.8" height="3.8" fill="#000"/>
<rect x="224.68333333333334" y="478.1" width="3.8" height="3.8" fill="#000"/>
<path d="M47.42,410.50 C53.39,420.00 71.31,455.67 83.25,467.50 C95.19,479.33 107.14,479.42 119.08,481.50 C131.03,483.58 142.97,478.58 154.92,480.00 C166.86,481.42 178.81,488.25 190.75,490.00 C202.69,491.75 220.61,490.42 226.58,490.50" fill="none" stroke="#1a1a1a" stroke-width="1.05"/>
<path d="M47.41666666666667,408.3 L49.616666666666674,412.26 L45.21666666666667,412.26 Z" fill="#000"/>
<path d="M83.25,465.3 L85.45,469.26 L81.05,469.26 Z" fill="#000"/>
<path d="M119.08333333333334,479.3 L121.28333333333335,483.26 L116.88333333333334,483.26 Z" fill="#000"/>
<path d="M154.91666666666669,477.8 L157.11666666666667,481.76 L152.7166666666667,481.76 Z" fill="#000"/>
<path d="M190.75,487.8 L192.95,491.76 L188.55,491.76 Z" fill="#000"/>
<path d="M226.58333333333334,488.3 L228.78333333333333,492.26 L224.38333333333335,492.26 Z" fill="#000"/>
<path d="M47.42,410.50 C53.39,415.50 71.31,432.92 83.25,440.50 C95.19,448.08 107.14,452.67 119.08,456.00 C131.03,459.33 142.97,456.22 154.92,460.50 C166.86,464.78 178.81,477.62 190.75,481.70 C202.69,485.78 220.61,484.45 226.58,485.00" fill="none" stroke="#1a1a1a" stroke-width="1.05"/>
<path d="M45.71666666666667,408.8 L49.116666666666674,412.2 M45.71666666666667,412.2 L49.116666666666674,408.8" stroke="#333" stroke-width="0.7"/>
<path d="M81.55,438.8 L84.95,442.2 M81.55,442.2 L84.95,438.8" stroke="#333" stroke-width="0.7"/>
<path d="M117.38333333333334,454.3 L120.78333333333335,457.7 M117.38333333333334,457.7 L120.78333333333335,454.3" stroke="#333" stroke-width="0.7"/>
<path d="M153.2166666666667,458.8 L156.61666666666667,462.2 M153.2166666666667,462.2 L156.61666666666667,458.8" stroke="#333" stroke-width="0.7"/>
<path d="M189.05,480.0 L192.45,483.4 M189.05,483.4 L192.45,480.0" stroke="#333" stroke-width="0.7"/>
<path d="M224.88333333333335,483.3 L228.28333333333333,486.7 M224.88333333333335,486.7 L228.28333333333333,483.3" stroke="#333" stroke-width="0.7"/>
<rect x="201.5" y="382" width="49.3" height="34.8" fill="#fff" stroke="#bbb" stroke-width="0.7"/>
<line x1="203.8" y1="387.6" x2="217.0" y2="387.6" stroke="#111" stroke-width="0.9" />
<path d="M210.4,385.89000000000004 L212.11,387.6 L210.4,389.31 L208.69,387.6 Z" fill="#000"/>
<text transform="translate(218.1,389.6) scale(0.1130,0.1)" font-family="'Liberation Sans', sans-serif" font-size="56.00" text-anchor="start" fill="#2a2a2a" stroke="#2a2a2a" stroke-width="1.00">Sez-4/IL-2</text>
<line x1="203.8" y1="395.8" x2="217.0" y2="395.8" stroke="#111" stroke-width="0.9" />
<rect x="208.69" y="394.09000000000003" width="3.42" height="3.42" fill="#000"/>
<text transform="translate(218.1,397.8) scale(0.1130,0.1)" font-family="'Liberation Sans', sans-serif" font-size="56.00" text-anchor="start" fill="#2a2a2a" stroke="#2a2a2a" stroke-width="1.00">Seax/IL-2</text>
<line x1="203.8" y1="404.2" x2="217.0" y2="404.2" stroke="#111" stroke-width="0.9" />
<path d="M210.4,402.21999999999997 L212.38,405.784 L208.42000000000002,405.784 Z" fill="#000"/>
<text transform="translate(218.1,406.2) scale(0.1130,0.1)" font-family="'Liberation Sans', sans-serif" font-size="56.00" text-anchor="start" fill="#2a2a2a" stroke="#2a2a2a" stroke-width="1.00">MyLa2059</text>
<line x1="203.8" y1="412.6" x2="217.0" y2="412.6" stroke="#111" stroke-width="0.9" />
<path d="M208.87,411.07000000000005 L211.93,414.13 M208.87,414.13 L211.93,411.07000000000005" stroke="#333" stroke-width="0.7"/>
<text transform="translate(218.1,414.6) scale(0.1130,0.1)" font-family="'Liberation Sans', sans-serif" font-size="56.00" text-anchor="start" fill="#2a2a2a" stroke="#2a2a2a" stroke-width="1.00">MyLa3676</text>
<line x1="52.5" y1="523.8" x2="222.5" y2="523.8" stroke="#333" stroke-width="1.1" />
<text transform="translate(102,534.2) scale(1,1.06)" font-family="'Liberation Serif', serif" font-size="11.6" text-anchor="start" fill="#000" font-weight="normal" stroke="#000" stroke-width="0.07" >Rapamycin</text>
<line x1="297" y1="390.5" x2="297" y2="510" stroke="#666" stroke-width="1" />
<line x1="297" y1="510" x2="513.75" y2="510" stroke="#666" stroke-width="1" />
<line x1="294.5" y1="510.0" x2="297" y2="510.0" stroke="#888" stroke-width="0.6" />
<text transform="translate(292.2,511.8) scale(0.1040,0.1)" font-family="'Liberation Sans', sans-serif" font-size="51.00" text-anchor="end" fill="#2a2a2a" stroke="#2a2a2a" stroke-width="0.80">0</text>
<line x1="294.5" y1="490.0833333333333" x2="297" y2="490.0833333333333" stroke="#888" stroke-width="0.6" />
<text transform="translate(292.2,491.8833333333333) scale(0.1040,0.1)" font-family="'Liberation Sans', sans-serif" font-size="51.00" text-anchor="end" fill="#2a2a2a" stroke="#2a2a2a" stroke-width="0.80">20</text>
<line x1="294.5" y1="470.1666666666667" x2="297" y2="470.1666666666667" stroke="#888" stroke-width="0.6" />
<text transform="translate(292.2,471.9666666666667) scale(0.1040,0.1)" font-family="'Liberation Sans', sans-serif" font-size="51.00" text-anchor="end" fill="#2a2a2a" stroke="#2a2a2a" stroke-width="0.80">40</text>
<line x1="294.5" y1="450.25" x2="297" y2="450.25" stroke="#888" stroke-width="0.6" />
<text transform="translate(292.2,452.05) scale(0.1040,0.1)" font-family="'Liberation Sans', sans-serif" font-size="51.00" text-anchor="end" fill="#2a2a2a" stroke="#2a2a2a" stroke-width="0.80">60</text>
<line x1="294.5" y1="430.3333333333333" x2="297" y2="430.3333333333333" stroke="#888" stroke-width="0.6" />
<text transform="translate(292.2,432.1333333333333) scale(0.1040,0.1)" font-family="'Liberation Sans', sans-serif" font-size="51.00" text-anchor="end" fill="#2a2a2a" stroke="#2a2a2a" stroke-width="0.80">80</text>
<line x1="294.5" y1="410.4166666666667" x2="297" y2="410.4166666666667" stroke="#888" stroke-width="0.6" />
<text transform="translate(292.2,412.2166666666667) scale(0.1040,0.1)" font-family="'Liberation Sans', sans-serif" font-size="51.00" text-anchor="end" fill="#2a2a2a" stroke="#2a2a2a" stroke-width="0.80">100</text>
<line x1="294.5" y1="390.5" x2="297" y2="390.5" stroke="#888" stroke-width="0.6" />
<text transform="translate(292.2,392.3) scale(0.1040,0.1)" font-family="'Liberation Sans', sans-serif" font-size="51.00" text-anchor="end" fill="#2a2a2a" stroke="#2a2a2a" stroke-width="0.80">120</text>
<line x1="297.0" y1="510" x2="297.0" y2="512.2" stroke="#888" stroke-width="0.6" />
<line x1="333.125" y1="510" x2="333.125" y2="512.2" stroke="#888" stroke-width="0.6" />
<line x1="369.25" y1="510" x2="369.25" y2="512.2" stroke="#888" stroke-width="0.6" />
<line x1="405.375" y1="510" x2="405.375" y2="512.2" stroke="#888" stroke-width="0.6" />
<line x1="441.5" y1="510" x2="441.5" y2="512.2" stroke="#888" stroke-width="0.6" />
<line x1="477.625" y1="510" x2="477.625" y2="512.2" stroke="#888" stroke-width="0.6" />
<line x1="513.75" y1="510" x2="513.75" y2="512.2" stroke="#888" stroke-width="0.6" />
<text transform="translate(315.0625,520.0) scale(0.1330,0.1)" font-family="'Liberation Sans', sans-serif" font-size="45.00" text-anchor="middle" fill="#333" stroke="#333" stroke-width="1.00">0nM</text>
<text transform="translate(351.1875,520.0) scale(0.1330,0.1)" font-family="'Liberation Sans', sans-serif" font-size="45.00" text-anchor="middle" fill="#333" stroke="#333" stroke-width="1.00">0.25nM</text>
<text transform="translate(387.3125,520.0) scale(0.1330,0.1)" font-family="'Liberation Sans', sans-serif" font-size="45.00" text-anchor="middle" fill="#333" stroke="#333" stroke-width="1.00">0.5nM</text>
<text transform="translate(423.4375,520.0) scale(0.1330,0.1)" font-family="'Liberation Sans', sans-serif" font-size="45.00" text-anchor="middle" fill="#333" stroke="#333" stroke-width="1.00">1nM</text>
<text transform="translate(459.5625,520.0) scale(0.1330,0.1)" font-family="'Liberation Sans', sans-serif" font-size="45.00" text-anchor="middle" fill="#333" stroke="#333" stroke-width="1.00">5nM</text>
<text transform="translate(495.6875,520.0) scale(0.1330,0.1)" font-family="'Liberation Sans', sans-serif" font-size="45.00" text-anchor="middle" fill="#333" stroke="#333" stroke-width="1.00">10nM</text>
<text transform="translate(277.6,450.4) rotate(-90)" font-family="'Liberation Sans', sans-serif" font-size="6.3" text-anchor="middle" fill="#111" stroke="#111" stroke-width="0.18">% of BrdU incorporation</text>
<path d="M315.06,410.42 C321.08,416.23 339.15,438.13 351.19,445.27 C363.23,452.41 375.27,449.84 387.31,453.24 C399.35,456.64 411.40,463.03 423.44,465.69 C435.48,468.34 447.52,468.42 459.56,469.17 C471.60,469.92 489.67,470.00 495.69,470.17" fill="none" stroke="#1a1a1a" stroke-width="1.05"/>
<path d="M315.0625,408.5166666666667 L316.9625,410.4166666666667 L315.0625,412.31666666666666 L313.1625,410.4166666666667 Z" fill="#000"/>
<path d="M351.1875,443.37083333333334 L353.0875,445.2708333333333 L351.1875,447.1708333333333 L349.2875,445.2708333333333 Z" fill="#000"/>
<path d="M387.3125,451.33750000000003 L389.2125,453.2375 L387.3125,455.1375 L385.4125,453.2375 Z" fill="#000"/>
<path d="M423.4375,463.7854166666667 L425.3375,465.6854166666667 L423.4375,467.5854166666667 L421.5375,465.6854166666667 Z" fill="#000"/>
<path d="M459.5625,467.27083333333337 L461.4625,469.17083333333335 L459.5625,471.0708333333333 L457.6625,469.17083333333335 Z" fill="#000"/>
<path d="M495.6875,468.2666666666667 L497.5875,470.1666666666667 L495.6875,472.06666666666666 L493.7875,470.1666666666667 Z" fill="#000"/>
<path d="M315.06,410.42 C321.08,416.89 339.15,439.13 351.19,449.25 C363.23,459.38 375.27,465.35 387.31,471.16 C399.35,476.97 411.40,482.20 423.44,484.11 C435.48,486.02 447.52,480.95 459.56,482.61 C471.60,484.27 489.67,492.16 495.69,494.07" fill="none" stroke="#1a1a1a" stroke-width="1.05"/>
<rect x="313.1625" y="408.5166666666667" width="3.8" height="3.8" fill="#000"/>
<rect x="349.2875" y="447.3541666666667" width="3.8" height="3.8" fill="#000"/>
<rect x="385.4125" y="469.26250000000005" width="3.8" height="3.8" fill="#000"/>
<rect x="421.5375" y="482.20833333333337" width="3.8" height="3.8" fill="#000"/>
<rect x="457.6625" y="480.71458333333334" width="3.8" height="3.8" fill="#000"/>
<rect x="493.7875" y="492.1666666666667" width="3.8" height="3.8" fill="#000"/>
<rect x="480.3" y="382.6" width="40" height="17.4" fill="#fff" stroke="#bbb" stroke-width="0.7"/>
<line x1="482.6" y1="387.7" x2="495.8" y2="387.7" stroke="#111" stroke-width="0.9" />
<path d="M489.2,385.99 L490.90999999999997,387.7 L489.2,389.40999999999997 L487.49,387.7 Z" fill="#000"/>
<text transform="translate(496.90000000000003,389.7) scale(0.1130,0.1)" font-family="'Liberation Sans', sans-serif" font-size="56.00" text-anchor="start" fill="#2a2a2a" stroke="#2a2a2a" stroke-width="1.00">pt1/IL-2</text>
<line x1="482.6" y1="395.5" x2="495.8" y2="395.5" stroke="#111" stroke-width="0.9" />
<rect x="487.49" y="393.79" width="3.42" height="3.42" fill="#000"/>
<text transform="translate(496.90000000000003,397.5) scale(0.1130,0.1)" font-family="'Liberation Sans', sans-serif" font-size="56.00" text-anchor="start" fill="#2a2a2a" stroke="#2a2a2a" stroke-width="1.00">pt2/IL-2</text>
<line x1="318.75" y1="523.3" x2="490" y2="523.3" stroke="#333" stroke-width="1.1" />
<text transform="translate(368,534.2) scale(1,1.06)" font-family="'Liberation Serif', serif" font-size="11.6" text-anchor="start" fill="#000" font-weight="normal" stroke="#000" stroke-width="0.07" >Rapamycin</text>
</svg>
</body></html>
